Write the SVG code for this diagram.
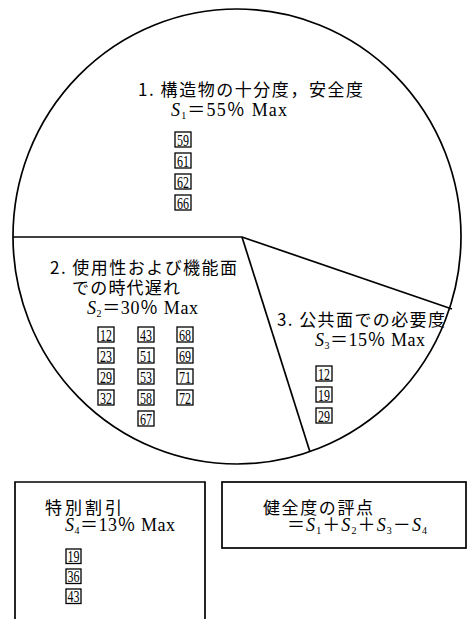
<svg xmlns="http://www.w3.org/2000/svg" width="467" height="619" viewBox="0 0 467 619">
<style>
.jp{font-family:"Noto Sans CJK JP","Noto Sans",sans-serif;font-size:17px;fill:#000}
.m{font-family:"Liberation Serif","Noto Sans CJK JP",serif;font-size:18px;fill:#000}
.it{font-style:italic}
.sub{font-size:10px}
.ln{fill:none;stroke:#000;stroke-width:1.7}
.bx rect{fill:none;stroke:#000;stroke-width:1.3}
.bx text{font-family:"Liberation Serif",serif;font-size:17.5px;fill:#000;text-anchor:middle}
</style>
<rect width="467" height="619" fill="#fff"/>
<g id="connectors">
<ellipse class="ln" cx="237" cy="236.5" rx="224" ry="227.5"/>
<line class="ln" x1="13" y1="237" x2="242" y2="237"/>
<line class="ln" x1="242" y1="237" x2="452" y2="309"/>
<line class="ln" x1="242" y1="237" x2="310" y2="452"/>
</g>
<g id="sector1">
<text class="jp" x="138" y="96" textLength="225">1. 構造物の十分度，安全度</text>
<text class="m" x="171" y="116" textLength="116"><tspan class="it">S</tspan><tspan class="sub" dy="3">1</tspan><tspan dy="-3">＝55％ Max</tspan></text>
<g class="bx">
<rect x="175" y="132" width="16" height="15"/><text x="183" y="145.5" textLength="12" lengthAdjust="spacingAndGlyphs">59</text>
<rect x="175" y="153" width="16" height="15"/><text x="183" y="166.5" textLength="12" lengthAdjust="spacingAndGlyphs">61</text>
<rect x="175" y="174" width="16" height="15"/><text x="183" y="187.5" textLength="12" lengthAdjust="spacingAndGlyphs">62</text>
<rect x="175" y="195" width="16" height="15"/><text x="183" y="208.5" textLength="12" lengthAdjust="spacingAndGlyphs">66</text>
</g>
</g>
<g id="sector2">
<text class="jp" x="50" y="274" textLength="187">2. 使用性および機能面</text>
<text class="jp" x="72" y="294" textLength="108">での時代遅れ</text>
<text class="m" x="87" y="314" textLength="111"><tspan class="it">S</tspan><tspan class="sub" dy="3">2</tspan><tspan dy="-3">＝30％ Max</tspan></text>
<g class="bx">
<rect x="98" y="327" width="16" height="15"/><text x="106" y="340.5" textLength="12" lengthAdjust="spacingAndGlyphs">12</text>
<rect x="98" y="348" width="16" height="15"/><text x="106" y="361.5" textLength="12" lengthAdjust="spacingAndGlyphs">23</text>
<rect x="98" y="369" width="16" height="15"/><text x="106" y="382.5" textLength="12" lengthAdjust="spacingAndGlyphs">29</text>
<rect x="98" y="390" width="16" height="15"/><text x="106" y="403.5" textLength="12" lengthAdjust="spacingAndGlyphs">32</text>
<rect x="138" y="327" width="16" height="15"/><text x="146" y="340.5" textLength="12" lengthAdjust="spacingAndGlyphs">43</text>
<rect x="138" y="348" width="16" height="15"/><text x="146" y="361.5" textLength="12" lengthAdjust="spacingAndGlyphs">51</text>
<rect x="138" y="369" width="16" height="15"/><text x="146" y="382.5" textLength="12" lengthAdjust="spacingAndGlyphs">53</text>
<rect x="138" y="390" width="16" height="15"/><text x="146" y="403.5" textLength="12" lengthAdjust="spacingAndGlyphs">58</text>
<rect x="138" y="411" width="16" height="15"/><text x="146" y="424.5" textLength="12" lengthAdjust="spacingAndGlyphs">67</text>
<rect x="177" y="327" width="16" height="15"/><text x="185" y="340.5" textLength="12" lengthAdjust="spacingAndGlyphs">68</text>
<rect x="177" y="348" width="16" height="15"/><text x="185" y="361.5" textLength="12" lengthAdjust="spacingAndGlyphs">69</text>
<rect x="177" y="369" width="16" height="15"/><text x="185" y="382.5" textLength="12" lengthAdjust="spacingAndGlyphs">71</text>
<rect x="177" y="390" width="16" height="15"/><text x="185" y="403.5" textLength="12" lengthAdjust="spacingAndGlyphs">72</text>
</g>
</g>
<g id="sector3">
<text class="jp" x="277" y="326" textLength="168">3. 公共面での必要度</text>
<text class="m" x="315" y="346" textLength="110"><tspan class="it">S</tspan><tspan class="sub" dy="3">3</tspan><tspan dy="-3">＝15％ Max</tspan></text>
<g class="bx">
<rect x="316" y="366" width="16" height="15"/><text x="324" y="379.5" textLength="12" lengthAdjust="spacingAndGlyphs">12</text>
<rect x="316" y="387" width="16" height="15"/><text x="324" y="400.5" textLength="12" lengthAdjust="spacingAndGlyphs">19</text>
<rect x="316" y="408" width="16" height="15"/><text x="324" y="421.5" textLength="12" lengthAdjust="spacingAndGlyphs">29</text>
</g>
</g>
<g id="discount">
<path class="ln" d="M15,619 V482 H205 V619"/>
<text class="jp" x="45" y="514" textLength="77">特別割引</text>
<text class="m" x="65" y="531" textLength="110"><tspan class="it">S</tspan><tspan class="sub" dy="3">4</tspan><tspan dy="-3">＝13％ Max</tspan></text>
<g class="bx">
<rect x="66" y="549" width="15" height="14.5"/><text x="73.5" y="562" textLength="12" lengthAdjust="spacingAndGlyphs">19</text>
<rect x="66" y="569" width="15" height="14.5"/><text x="73.5" y="582" textLength="12" lengthAdjust="spacingAndGlyphs">36</text>
<rect x="66" y="589" width="15" height="14.5"/><text x="73.5" y="602" textLength="12" lengthAdjust="spacingAndGlyphs">43</text>
</g>
</g>
<g id="score">
<rect class="ln" x="222" y="482" width="244" height="66"/>
<text class="jp" x="263" y="514" textLength="110">健全度の評点</text>
<text class="m" x="287" y="531" textLength="140">＝<tspan class="it">S</tspan><tspan class="sub" dy="3">1</tspan><tspan dy="-3">＋</tspan><tspan class="it">S</tspan><tspan class="sub" dy="3">2</tspan><tspan dy="-3">＋</tspan><tspan class="it">S</tspan><tspan class="sub" dy="3">3</tspan><tspan dy="-3">－</tspan><tspan class="it">S</tspan><tspan class="sub" dy="3">4</tspan></text>
</g>
</svg>
